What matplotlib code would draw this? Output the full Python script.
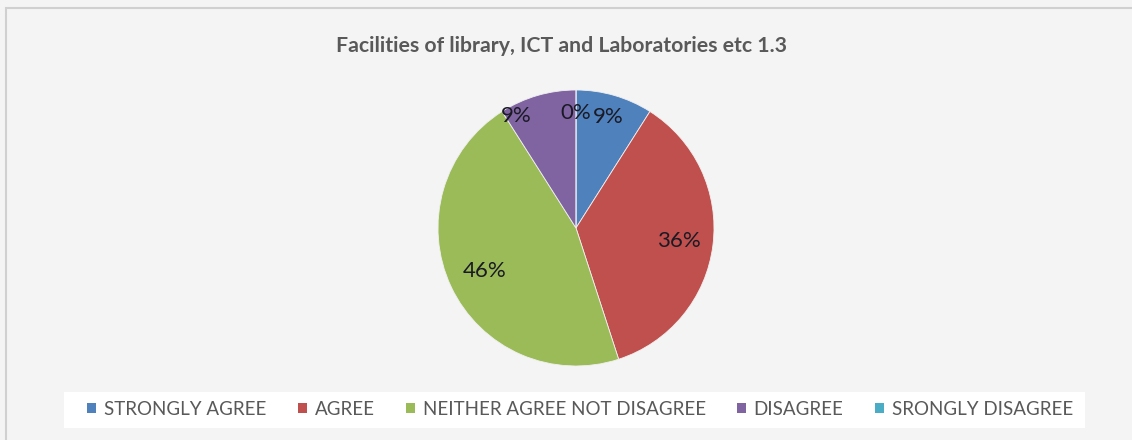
import numpy as np
import matplotlib
matplotlib.use("Agg")
import matplotlib.pyplot as plt
from matplotlib.patches import Rectangle

title = "Facilities of library, ICT and Laboratories etc 1.3"
categories = ["STRONGLY AGREE", "AGREE", "NEITHER AGREE NOT DISAGREE", "DISAGREE", "SRONGLY DISAGREE"]
values = [9, 36, 46, 9, 0]
colors = ["#4F81BD", "#C0504D", "#9BBB59", "#8064A2", "#4BACC6"]
label_texts = ["9%", "36%", "46%", "9%", "0%"]

W, H = 1132, 440
fig = plt.figure(figsize=(W / 100, H / 100), dpi=100)
fig.patch.set_facecolor("#f4f4f4")

# outer chart border (top/left visible)
fig.add_artist(Rectangle((6 / W, -0.05), 1.2, 1 - 8 / H + 0.05, transform=fig.transFigure,
                         fill=False, edgecolor="#d0d0d0", linewidth=1.5))

fig.text(562 / W, 1 - 46 / H, title, ha="center", va="center", fontsize=15.3,
         fontweight="bold", color="#595959", family="Lato")

# pie axes: center (576,228), radius ~138
r = 138
ax = fig.add_axes([(576 - r) / W, 1 - (228 + r) / H, 2 * r / W, 2 * r / H])
wedges, _ = ax.pie(values, colors=colors, startangle=90, counterclock=False,
                   wedgeprops=dict(edgecolor="#f0f0f0", linewidth=0.6))
ax.set_aspect("equal")
ax.set_xlim(-1, 1)
ax.set_ylim(-1, 1)
ax.axis("off")

# label placement: distance and angle offsets (Excel best-fit)
dists = [0.84, 0.75, 0.73, 0.92, 0.83]
ang_off = [0, 0, 0, 12, 0]
for w, t, d, o in zip(wedges, label_texts, dists, ang_off):
    mid = np.deg2rad((w.theta1 + w.theta2) / 2 + o)
    ax.text(d * np.cos(mid), d * np.sin(mid), t, ha="center", va="center",
            fontsize=16, color="#1a1a24", family="Lato")

# legend box
fig.add_artist(Rectangle((64 / W, 1 - 428 / H), (1085 - 64) / W, 36 / H,
                         transform=fig.transFigure, facecolor="white", edgecolor="none"))
handles = [Rectangle((0, 0), 1, 1, facecolor=c, edgecolor="none") for c in colors]
leg = fig.legend(handles, categories, loc="center", bbox_to_anchor=(580 / W, 1 - 409 / H),
                 ncol=5, frameon=False, handlelength=0.48, handleheight=0.48,
                 handletextpad=0.43, columnspacing=1.65, labelcolor="#595959",
                 borderpad=0, prop={"family": "Lato", "size": 13.5})

fig.savefig("out.png", dpi=100, facecolor=fig.get_facecolor())
